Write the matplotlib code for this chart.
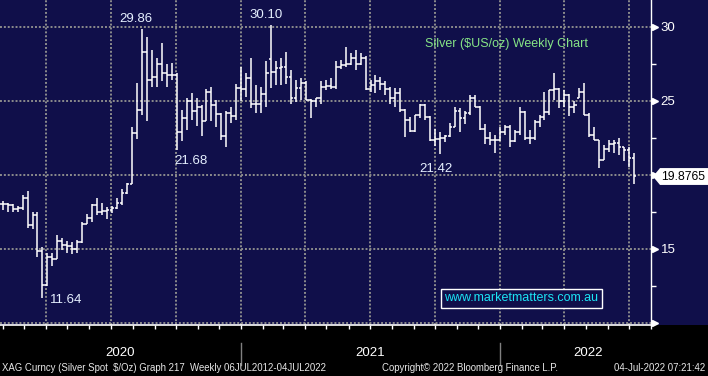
import matplotlib
matplotlib.use('Agg')
import matplotlib.pyplot as plt
import matplotlib.dates as mdates
from matplotlib.patches import Rectangle, Polygon
from matplotlib.transforms import blended_transform_factory
import pandas as pd

# weekly silver bars (week ending Friday)
first_week = '2020-01-31'
opens = [18.00, 18.05, 17.95, 17.70, 17.75, 18.45, 16.60, 17.30, 14.85, 12.55,
         14.45, 14.30, 15.50, 15.25, 15.20, 14.95, 15.45, 16.70, 17.10, 17.95,
         17.45, 17.55, 17.60, 17.75, 18.10, 18.75, 19.40, 22.80, 24.40, 28.30,
         26.40, 26.60, 27.50, 26.90, 26.70, 26.75, 22.90, 23.80, 25.00, 24.30,
         24.60, 23.60, 25.60, 24.70, 24.10, 22.60, 24.15, 23.95, 25.85, 25.80,
         26.50, 24.80, 24.80, 25.45, 27.80, 26.95, 27.20, 27.30, 26.60, 25.15,
         25.85, 26.20, 25.05, 24.95, 25.20, 25.90, 26.00, 25.90, 27.30, 27.40,
         27.50, 27.90, 27.50, 27.90, 25.80, 26.05, 26.30, 26.10, 25.80, 25.20,
         25.50, 24.40, 23.70, 22.95, 24.00, 24.70, 23.90, 22.35, 22.40, 22.50,
         22.60, 23.25, 24.30, 23.80, 24.15, 25.15, 24.60, 23.10, 22.45, 22.35,
         22.35, 22.90, 23.25, 22.25, 22.90, 24.25, 22.45, 22.45, 23.55, 23.90,
         24.25, 25.70, 25.80, 25.00, 25.40, 24.60, 25.20, 25.60, 24.05, 22.70,
         22.35, 21.00, 21.75, 22.10, 22.15, 21.90, 21.70, 21.15]
highs = [18.20, 18.10, 18.00, 17.90, 18.60, 18.90, 17.50, 17.50, 15.10, 14.70,
         14.70, 15.90, 15.75, 15.50, 15.45, 15.60, 16.80, 17.35, 18.00, 18.40,
         18.10, 17.80, 17.90, 18.40, 19.00, 19.45, 23.20, 26.20, 29.86, 29.30,
         28.40, 27.90, 28.90, 27.50, 27.55, 26.90, 24.40, 25.20, 25.50, 25.20,
         24.70, 25.80, 25.95, 25.05, 24.15, 24.30, 24.60, 26.10, 27.30, 26.85,
         27.85, 26.05, 25.95, 27.65, 30.10, 27.65, 27.85, 28.30, 27.05, 26.40,
         26.50, 26.30, 25.10, 25.20, 26.30, 26.40, 26.50, 27.65, 27.75, 28.65,
         28.20, 28.40, 28.20, 28.00, 26.40, 26.75, 26.60, 26.30, 25.95, 25.85,
         25.85, 24.45, 23.90, 24.05, 24.80, 24.80, 23.95, 23.10, 22.90, 22.70,
         23.50, 24.60, 24.50, 24.30, 25.40, 25.40, 24.65, 23.45, 22.90, 22.70,
         23.25, 23.35, 23.35, 23.00, 24.60, 24.30, 23.00, 23.70, 24.05, 25.60,
         25.75, 26.90, 25.85, 25.70, 25.45, 24.95, 25.85, 26.20, 24.15, 23.25,
         22.35, 22.00, 22.35, 22.35, 22.45, 21.90, 21.90, 21.45]
lows = [17.60, 17.50, 17.50, 17.50, 17.60, 16.40, 16.35, 14.45, 11.64, 12.50,
        13.80, 14.30, 14.90, 14.70, 14.65, 14.70, 15.40, 16.65, 16.80, 17.30,
        17.30, 17.00, 17.40, 17.70, 17.95, 18.70, 19.40, 22.40, 24.00, 23.60,
        25.90, 25.90, 26.30, 25.90, 26.40, 21.68, 22.30, 23.00, 23.70, 23.30,
        22.60, 23.60, 23.60, 23.25, 22.35, 21.90, 23.50, 23.70, 24.95, 25.25,
        24.50, 24.15, 24.15, 24.60, 25.85, 26.05, 26.05, 26.15, 24.80, 24.90,
        25.05, 25.05, 23.80, 24.55, 24.80, 25.70, 25.80, 25.80, 27.15, 27.30,
        27.40, 27.05, 27.40, 25.70, 25.60, 25.50, 25.70, 25.40, 24.80, 24.60,
        24.25, 22.55, 22.90, 22.90, 23.80, 23.70, 22.30, 21.95, 21.42, 22.20,
        22.55, 23.20, 22.90, 23.45, 24.05, 24.60, 23.00, 22.10, 22.00, 21.45,
        22.30, 22.70, 21.90, 22.20, 22.70, 22.35, 22.10, 22.35, 23.25, 23.70,
        24.05, 25.05, 24.50, 24.60, 23.95, 24.15, 25.15, 24.05, 22.55, 22.35,
        20.45, 21.00, 21.55, 21.45, 21.35, 20.90, 20.55, 19.40]
closes = [18.05, 17.95, 17.70, 17.75, 18.45, 16.60, 17.30, 14.85, 12.55, 14.45,
          14.30, 15.50, 15.25, 15.20, 14.95, 15.45, 16.70, 17.10, 17.95, 17.45,
          17.55, 17.60, 17.75, 18.10, 18.75, 19.40, 22.80, 24.40, 28.30, 26.40,
          26.60, 27.50, 26.90, 26.70, 26.75, 22.90, 23.80, 25.00, 24.30, 24.60,
          23.60, 25.60, 24.70, 24.10, 22.60, 24.15, 23.95, 25.85, 25.80, 26.50,
          24.80, 24.80, 25.45, 26.90, 26.95, 27.20, 27.30, 26.60, 25.15, 25.85,
          26.20, 25.05, 24.95, 25.20, 25.90, 26.00, 25.90, 27.30, 27.40, 27.50,
          27.90, 27.50, 27.90, 25.80, 26.05, 26.30, 26.10, 25.80, 25.20, 25.50,
          24.40, 23.70, 22.95, 24.00, 24.70, 23.90, 22.35, 22.40, 22.50, 22.60,
          23.25, 24.30, 23.80, 24.15, 25.15, 24.60, 23.10, 22.45, 22.35, 22.35,
          22.90, 23.25, 22.25, 22.90, 24.25, 22.45, 22.45, 23.55, 23.90, 24.25,
          25.70, 25.80, 25.00, 25.40, 24.60, 24.70, 25.60, 24.05, 22.70, 22.35,
          21.00, 21.75, 22.10, 22.15, 21.90, 21.70, 21.15, 19.88]
last_price = 19.8765

# labelled extremes: (bar index, use high?, offset px)
marks = [(28, True, (-6, 10)), (54, True, (-5, 10)), (35, False, (14, -11)),
         (8, False, (24, -2)), (88, False, (-4, -15))]

y_major = [10, 15, 20, 25, 30]
y_labels = ['', '15', '', '25', '30']
y_minor = [12.5, 17.5, 22.5, 27.5]
years = ['2020', '2021', '2022']
year_label_dates = ['2020-07-14', '2021-07-01', '2022-05-05']
year_breaks = ['2021-01-01', '2022-01-01']

NAVY = '#100f4a'
GRID = '#8c8c8c'
FONT = ['Liberation Sans', 'DejaVu Sans']
NARROW = ['Liberation Sans Narrow', 'Liberation Sans', 'DejaVu Sans']

dates = mdates.date2num(pd.date_range(first_week, periods=len(closes), freq='7D'))

fig = plt.figure(figsize=(7.08, 3.76), dpi=100, facecolor='black')
fig.patches.append(Rectangle((0, 51 / 376), 1, 325 / 376, transform=fig.transFigure,
                             facecolor=NAVY, edgecolor='none', zorder=-5))
ax = fig.add_axes([0, 51 / 376, 651 / 708, 325 / 376])
ax.set_facecolor(NAVY)

# grid
for q in pd.date_range('2020-04-01', '2022-07-01', freq='QS'):
    ax.axvline(mdates.date2num(q), color=GRID, lw=1.4, ls=(0, (1, 1)), zorder=1)
for v in y_major:
    ax.axhline(v, color=GRID, lw=1.4, ls=(0, (1, 1)), zorder=1)

# OHLC bars
half = 3.4
ax.vlines(dates, lows, highs, color='white', lw=1.1, zorder=3)
ax.hlines(opens, dates - half, dates, color='white', lw=1.1, zorder=3)
ax.hlines(closes, dates, dates + half, color='white', lw=1.1, zorder=3)

x0 = mdates.date2num(pd.Timestamp('2020-04-01'))
ax.set_xlim(x0 - 64.8, x0 + 852)
ax.set_ylim(9.845, 31.80)

# extremes labels
for i, use_high, (dx, dy) in marks:
    val = highs[i] if use_high else lows[i]
    ax.annotate(f'{val:.2f}', xy=(dates[i], val), xytext=(dx * 0.72, dy * 0.72),
                textcoords='offset points', ha='center', va='center',
                color='#e6f0ff', fontsize=9.5, family=FONT, zorder=5)

ax.text(425 / 651, 1 - 44 / 325, 'Silver ($US/oz) Weekly Chart', transform=ax.transAxes,
        color='#86e486', fontsize=9, family=FONT, ha='left', va='center')
ax.text(521 / 651, 1 - 298 / 325, 'www.marketmatters.com.au', transform=ax.transAxes,
        color='#1ce4f4', fontsize=9, family=FONT, ha='center', va='center',
        bbox=dict(boxstyle='square,pad=0.28', facecolor=NAVY, edgecolor='white', lw=1))

# axes frame
for s in ['top', 'left']:
    ax.spines[s].set_visible(False)
ax.spines['right'].set_color('white')
ax.spines['bottom'].set_color('white')
ax.spines['right'].set_linewidth(1)
ax.spines['bottom'].set_linewidth(1.2)

ax.yaxis.tick_right()
ax.set_yticks(y_major)
ax.set_yticklabels(y_labels)
ax.set_yticks(y_minor, minor=True)
ax.tick_params(axis='y', which='major', length=0, pad=7, labelcolor='white', labelsize=9.5)
ax.tick_params(axis='y', which='minor', length=3.6, width=1, color='white', direction='out')
for lab in ax.get_yticklabels():
    lab.set_family(FONT)

ax.xaxis.set_major_locator(mdates.MonthLocator())
ax.tick_params(axis='x', which='major', length=3, width=1, color='white',
               direction='out', labelbottom=False)

yr = blended_transform_factory(ax.transAxes, ax.transData)
ax.plot([1.006] * len(y_major), y_major, ls='none', marker='>', ms=5, color='white',
        transform=yr, clip_on=False, zorder=6)

# last price tag
h = 0.57
tag = Polygon([(1.003, last_price), (1.0138, last_price + h), (1.09, last_price + h),
               (1.09, last_price - h), (1.0138, last_price - h)], closed=True,
              facecolor='white', edgecolor='none', transform=yr, clip_on=False, zorder=7)
ax.add_patch(tag)
ax.text(1.0155, last_price, f'{last_price:.4f}', transform=yr, color='black', fontsize=8.8,
        family=FONT, ha='left', va='center', clip_on=False, zorder=8)

# year labels / separators under the axis
xb = blended_transform_factory(ax.transData, ax.transAxes)
for d in year_breaks:
    xd = mdates.date2num(pd.Timestamp(d))
    ax.plot([xd, xd], [-18 / 325, -40 / 325], color='#808080', lw=1, transform=xb, clip_on=False)
for y, d in zip(years, year_label_dates):
    ax.text(mdates.date2num(pd.Timestamp(d)), -28 / 325, y, transform=xb, color='white',
            fontsize=9.5, family=FONT, ha='center', va='center')

fig.text(2 / 708, 1 - 368 / 376, 'XAG Curncy (Silver Spot  $/Oz) Graph 217  Weekly 06JUL2012-04JUL2022',
         color='#e8e8e8', fontsize=6.9, family=NARROW, ha='left', va='center')
fig.text(382 / 708, 1 - 368 / 376, 'Copyright\u00a9 2022 Bloomberg Finance L.P.',
         color='#e8e8e8', fontsize=6.9, family=NARROW, ha='left', va='center')
fig.text(705 / 708, 1 - 368 / 376, '04-Jul-2022 07:21:42',
         color='#e8e8e8', fontsize=6.9, family=NARROW, ha='right', va='center')

fig.savefig('out.png', dpi=100, facecolor='black')
